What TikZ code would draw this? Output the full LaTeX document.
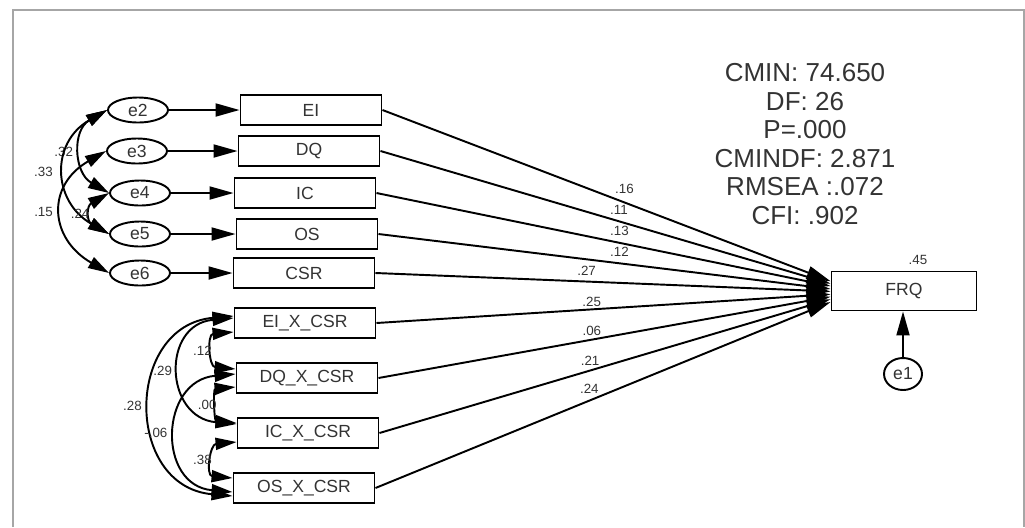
\documentclass[tikz,border=0pt]{standalone}
\usepackage{fontspec}
\setmainfont{Liberation Sans}
\usetikzlibrary{arrows.meta}
\usetikzlibrary{shapes.geometric}
\usetikzlibrary{calc}

\begin{document}
\begin{tikzpicture}[
    x=0.2mm, y=-0.2mm,
    font=\fontsize{10}{12}\selectfont,
    line width=1.1pt,
    var/.style={rectangle,draw,minimum width=28.2mm,minimum height=6mm,inner sep=0pt,text=black!80},
    err/.style={ellipse,draw,minimum width=12mm,minimum height=5mm,inner sep=0pt,text=black!80},
    coef/.style={font=\fontsize{7.6}{9}\selectfont,inner sep=1pt,text=black!80},
    arrow/.style={-{Triangle[length=4.8mm,width=2.6mm]}},
    cov/.style={{Triangle[length=4.2mm,width=2.4mm]}-{Triangle[length=4.2mm,width=2.4mm]}}
]
\useasboundingbox (0,0) rectangle (1025,527);

% cadre gris
\draw[black!35,line width=1.2pt] (13,527) -- (13,10) -- (1024,10) -- (1024,527);

% erreurs et variables observees
\node[err] (e2) at (138,110) {e2};
\node[err] (e3) at (137,151) {e3};
\node[err] (e4) at (140,193) {e4};
\node[err] (e5) at (140,234) {e5};
\node[err] (e6) at (140,273) {e6};

\node[var] (EI) at (311,110) {EI};
\node[var] (DQ) at (309,151) {DQ};
\node[var] (IC) at (305,193) {IC};
\node[var] (OS) at (307,234) {OS};
\node[var] (CSR) at (304,273) {CSR};

% termes d'interaction
\node[var] (EIX) at (305,323) {EI\_X\_CSR};
\node[var] (DQX) at (307,378) {DQ\_X\_CSR};
\node[var] (ICX) at (308,433) {IC\_X\_CSR};
\node[var] (OSX) at (304,488) {OS\_X\_CSR};

% variable dependante
\node[var,minimum width=29mm,minimum height=7.8mm] (FRQ) at (904,291) {FRQ};
\node[coef] (r2) at (918,260) {.45};
\node[err,minimum width=7.6mm,minimum height=6.4mm] (e1) at (903,374) {e1};

% indices d'ajustement
\node[align=center,font=\fontsize{14.8}{16.2}\selectfont,text=black!80] (fit) at (805,144)
    {CMIN: 74.650\\DF: 26\\P=.000\\CMINDF: 2.871\\RMSEA :.072\\CFI: .902};

% erreurs -> variables
\draw[arrow] (e2) -- (EI);
\draw[arrow] (e3) -- (DQ);
\draw[arrow] (e4) -- (IC);
\draw[arrow] (e5) -- (OS);
\draw[arrow] (e6) -- (CSR);
\draw[arrow] (e1) -- (e1 |- FRQ.south);

% chemins vers FRQ
\draw[arrow] (EI.east) -- node[coef,pos=0.54,yshift=2.8mm]{.16} ($(FRQ.north west)!0.26!(FRQ.south west)$);
\draw[arrow] (DQ.east) -- node[coef,pos=0.53,yshift=2.2mm]{.11} ($(FRQ.north west)!0.32!(FRQ.south west)$);
\draw[arrow] (IC.east) -- node[coef,pos=0.535,yshift=2.4mm]{.13} ($(FRQ.north west)!0.38!(FRQ.south west)$);
\draw[arrow] (OS.east) -- node[coef,pos=0.533,yshift=2.2mm]{.12} ($(FRQ.north west)!0.45!(FRQ.south west)$);
\draw[arrow] (CSR.east) -- node[coef,pos=0.464,yshift=2.2mm]{.27} ($(FRQ.north west)!0.51!(FRQ.south west)$);
\draw[arrow] (EIX.east) -- node[coef,pos=0.474,yshift=1.5mm]{.25} ($(FRQ.north west)!0.58!(FRQ.south west)$);
\draw[arrow] (DQX.east) -- node[coef,pos=0.472,yshift=1.8mm]{.06} ($(FRQ.north west)!0.64!(FRQ.south west)$);
\draw[arrow] (ICX.east) -- node[coef,pos=0.467,yshift=2mm]{.21} ($(FRQ.north west)!0.70!(FRQ.south west)$);
\draw[arrow] (OSX.east) -- node[coef,pos=0.47,yshift=2.4mm]{.24} ($(FRQ.north west)!0.77!(FRQ.south west)$);

% covariances entre erreurs
\draw[cov] (e2.west) to[out=210,in=150,looseness=1.25] node[coef,left=1.2mm]{.32} (e4.west);
\draw[cov] (e2.west) to[out=210,in=150,looseness=1.35] node[coef,left=2mm]{.33} (e5.west);
\draw[cov] (e3.west) to[out=210,in=150,looseness=1.45] node[coef,left=1.4mm]{.15} (e6.west);
\draw[cov] (e4.west) to[out=210,in=150,looseness=1.63] node[coef,left]{.24} (e5.west);

% covariances entre interactions
\draw[cov] ([yshift=-1.8mm]EIX.west) to[out=185,in=175,looseness=1.85] node[coef,left]{.12} ([yshift=1.8mm]DQX.west);
\draw[cov] ([yshift=1mm]EIX.west) to[out=185,in=175,looseness=1.75] node[coef,left=1.2mm]{.29} ([yshift=1.8mm]ICX.west);
\draw[cov] ([yshift=1.4mm]EIX.west) to[out=185,in=175,looseness=1.55] node[coef,left=1.4mm]{.28} ([yshift=-1.6mm]OSX.west);
\draw[cov] ([yshift=-1.8mm]DQX.west) to[out=185,in=175,looseness=1.6] node[coef,left]{.00} ([yshift=2mm]ICX.west);
\draw[cov] ([yshift=0.8mm]DQX.west) to[out=185,in=175,looseness=1.65] node[coef,left=1.4mm]{-.06} ([yshift=-0.8mm]OSX.west);
\draw[cov] ([yshift=-1.8mm]ICX.west) to[out=185,in=175,looseness=1.9] node[coef,left]{.38} ([yshift=2mm]OSX.west);

\end{tikzpicture}
\end{document}
